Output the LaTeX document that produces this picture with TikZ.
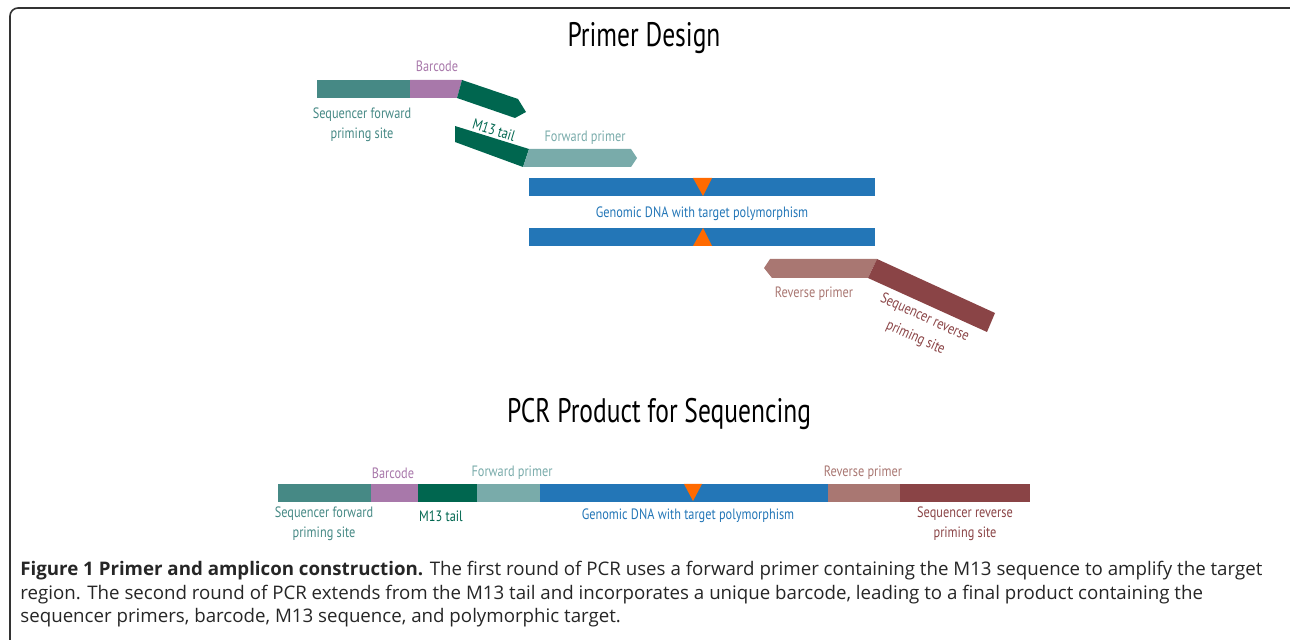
\documentclass[tikz,border=0pt]{standalone}
\usepackage{fontspec}
\setmainfont{Open Sans}
\newfontfamily\labelfont[FakeStretch=0.82]{PT Sans}
\newfontfamily\titlefont[FakeStretch=0.75]{PT Sans}
\definecolor{seqfwd}{HTML}{468985}
\definecolor{barcode}{HTML}{A878AA}
\definecolor{mtail}{HTML}{00664F}
\definecolor{fwdprimer}{HTML}{79ABAA}
\definecolor{genomic}{HTML}{2376B7}
\definecolor{snp}{HTML}{FF6A00}
\definecolor{revprimer}{HTML}{A97772}
\definecolor{seqrev}{HTML}{8A4446}

\begin{document}
\begin{tikzpicture}[x=0.5pt, y=-0.5pt,
	lbl/.style={font=\labelfont\fontsize{7.5}{10}\selectfont, inner sep=0pt, align=center},
	ttl/.style={font=\titlefont\fontsize{17}{20}\selectfont, inner sep=0pt},
	capline/.style={font=\fontsize{9.35}{12}\selectfont, text=black!85, inner sep=0pt, anchor=base west}]
	\useasboundingbox (0,0) rectangle (1290,640);
	\draw[black!80, line width=0.8pt, rounded corners=4pt] (1290,8) -- (10,8) -- (10,652);
	% primer design
	\node[ttl] (design) at (644,38) {Primer Design};
	\fill[seqfwd] (317,80) rectangle (410,98);
	\fill[barcode] (410,80) -- (462,80) -- (457,98) -- (410,98) -- cycle;
	\fill[mtail] (462,80) -- (518,99) -- (526,112) -- (515,118) -- (457,98) -- cycle;
	\fill[mtail] (455,126) -- (529,149) -- (523,167) -- (455,142) -- cycle;
	\fill[fwdprimer] (529,149) -- (631,149) -- (637,158) -- (631,167) -- (523,167) -- cycle;
	\fill[genomic] (529,178) rectangle (875,196);
	\fill[genomic] (529,228) rectangle (875,246);
	\fill[snp] (693,178) -- (712,178) -- (703,196) -- cycle;
	\fill[snp] (693,246) -- (712,246) -- (703,228) -- cycle;
	\fill[revprimer] (877,259) -- (770,259) -- (764,268) -- (772,278) -- (868,278) -- cycle;
	\fill[seqrev] (877,259) -- (995,313) -- (987,332) -- (868,278) -- cycle;
	\node[lbl, text=barcode] (bc1) at (437,66) {Barcode};
	\node[lbl, text=seqfwd] (sf1) at (362,125) {Sequencer forward\\priming site};
	\node[lbl, text=mtail, rotate=-17] (mt1) at (494,130) {M13 tail};
	\node[lbl, text=fwdprimer] (fp1) at (585,138) {Forward primer};
	\node[lbl, text=genomic] (gd1) at (702,214) {Genomic DNA with target polymorphism};
	\node[lbl, text=revprimer] (rp1) at (814,294) {Reverse primer};
	\node[lbl, text=seqrev, rotate=-24.6, font=\labelfont\fontsize{7.5}{11}\selectfont] (sr1) at (920,328) {Sequencer reverse\\priming site};
	% pcr product
	\node[ttl] (product) at (659,414) {PCR Product for Sequencing};
	\foreach \a/\b/\c in {278/371/seqfwd, 371/418/barcode, 418/477/mtail, 477/540/fwdprimer, 540/828/genomic, 828/900/revprimer, 900/1030/seqrev}
		\fill[\c] (\a,484) rectangle (\b,502);
	\fill[snp] (684,484) -- (702,484) -- (693,501) -- cycle;
	\node[lbl, text=barcode] (bc2) at (393,473) {Barcode};
	\node[lbl, text=fwdprimer] (fp2) at (512,473) {Forward primer};
	\node[lbl, text=revprimer] (rp2) at (863,473) {Reverse primer};
	\node[lbl, text=seqfwd] (sf2) at (324,524) {Sequencer forward\\priming site};
	\node[lbl, text=mtail] (mt2) at (441,516) {M13 tail};
	\node[lbl, text=genomic] (gd2) at (688,516) {Genomic DNA with target polymorphism};
	\node[lbl, text=seqrev] (sr2) at (965,524) {Sequencer reverse\\priming site};
	% caption
	\node[capline] (cap1) at (20,575) {\textbf{Figure 1 Primer and amplicon construction.} The first round of PCR uses a forward primer containing the M13 sequence to amplify the target};
	\node[capline] (cap2) at (20,599) {region. The second round of PCR extends from the M13 tail and incorporates a unique barcode, leading to a final product containing the};
	\node[capline] (cap3) at (20,623) {sequencer primers, barcode, M13 sequence, and polymorphic target.};
\end{tikzpicture}
\end{document}
